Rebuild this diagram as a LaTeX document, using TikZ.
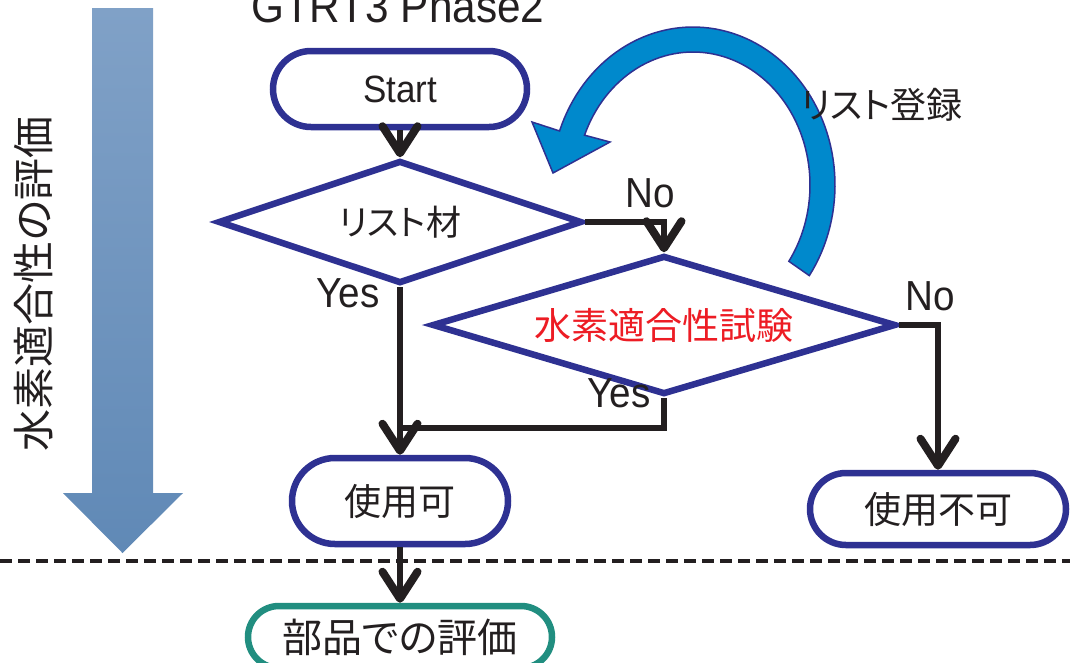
\documentclass[tikz,border=0pt]{standalone}
\usepackage{fontspec}
\setmainfont{Liberation Sans}[FakeStretch=0.92]
\newfontfamily\jp{Noto Sans CJK JP}[RawFeature=+palt]
\usetikzlibrary{shapes.geometric,shapes.misc,arrows.meta}
\definecolor{fblue}{RGB}{46,49,146}
\definecolor{tblack}{RGB}{35,31,32}
\definecolor{tred}{RGB}{237,28,36}
\definecolor{tteal}{RGB}{33,142,128}
\definecolor{cyanarr}{RGB}{0,137,204}
\definecolor{bigtop}{RGB}{128,161,199}
\definecolor{bigbot}{RGB}{96,137,182}
\begin{document}
\begin{tikzpicture}[x=1pt,y=-1pt,
  term/.style={rounded rectangle, draw=fblue, line width=6.5pt, fill=white, inner sep=0pt, text=tblack},
  dec/.style={diamond, draw=fblue, line width=6.5pt, fill=white, inner sep=0pt, text=tblack},
  conn/.style={draw=tblack, line width=6pt, line join=miter},
  arr/.style={conn, -{Straight Barb[length=27pt,width=35pt,line width=8pt,round]}},
  lab/.style={text=tblack, inner sep=0pt, font=\fontsize{42}{42}\selectfont},
  jp35/.style={font=\jp\fontsize{35}{35}\selectfont},
  jp36/.style={font=\jp\fontsize{36}{36}\selectfont},
  jp37/.style={font=\jp\fontsize{37}{37}\selectfont},
  jp40/.style={font=\jp\fontsize{40}{40}\selectfont}]
\useasboundingbox (0,0) rectangle (1070,662);
\clip (0,0) rectangle (1070,662);

% big gradient arrow
\shade[top color=bigtop, bottom color=bigbot]
  (92,8) -- (153,8) -- (153,493) -- (183,493) -- (122.5,553) -- (63,493) -- (92,493) -- cycle;
\node[rotate=90, text=tblack, font=\jp\fontsize{42}{42}\selectfont] (vlabel) at (34,284) {水素適合性の評価};

% title (cut off at top, as in the reference)
\node[anchor=base west, inner sep=0pt, text=tblack, font=\fontsize{46}{46}\selectfont] (title) at (251,22) {GTRT3 Phase2};

% curved blue arrow
\filldraw[fill=cyanarr, draw=fblue, line width=1.5pt, line join=miter]
  plot[domain=35:-160, samples=80, variable=\t] ({693+142*cos(\t)},{185+158*sin(\t)})
  -- (532,122) -- (553,173) -- (610,142) --
  plot[domain=-158:35, samples=80, variable=\t] ({693+117*cos(\t)},{185+133*sin(\t)})
  -- cycle;
\node[text=tblack, jp36] (reg) at (882,105) {リスト登録};

% nodes
\node[term, minimum width=254pt, minimum height=76pt, font=\fontsize{38}{38}\selectfont] (start) at (400,89) {Start};
\node[dec, aspect=2.96, minimum width=364pt, minimum height=123pt, jp35] (d1) at (400,222) {リスト材};
\node[dec, aspect=3.34, minimum width=464pt, minimum height=139pt, jp37, text=tred] (d2) at (664,325) {水素適合性試験};
\node[term, minimum width=216pt, minimum height=86pt, jp37] (ok) at (400,501) {使用可};
\node[term, minimum width=256pt, minimum height=72pt, jp37] (ng) at (938,509) {使用不可};
\node[term, draw=tteal, minimum width=304pt, minimum height=62pt, jp40] (parts) at (400,637) {部品での評価};

% labels
\node[lab] (no1) at (650,193) {No};
\node[lab] (no2) at (930,296) {No};
\node[lab] (yes1) at (348,293) {Yes};
\node[lab] (yes2) at (619,393) {Yes};

% dashed separator
\coordinate (dl) at (0,561);
\coordinate (dr) at (1070,561);
\draw[tblack, line width=3.5pt, dash pattern=on 12pt off 6pt] (dl) -- (dr);

% connectors
\coordinate (join) at (400,428);
\draw[arr] (start.south) -- (d1.north);
\draw[arr] (d1.east) -| (d2.north);
\draw[arr] (d1.south) -- (ok.north);
\draw[conn] (d2.south) |- (join);
\draw[arr] (d2.east) -| (ng.north);
\draw[arr] (ok.south) -- (parts.north);
\end{tikzpicture}
\end{document}
